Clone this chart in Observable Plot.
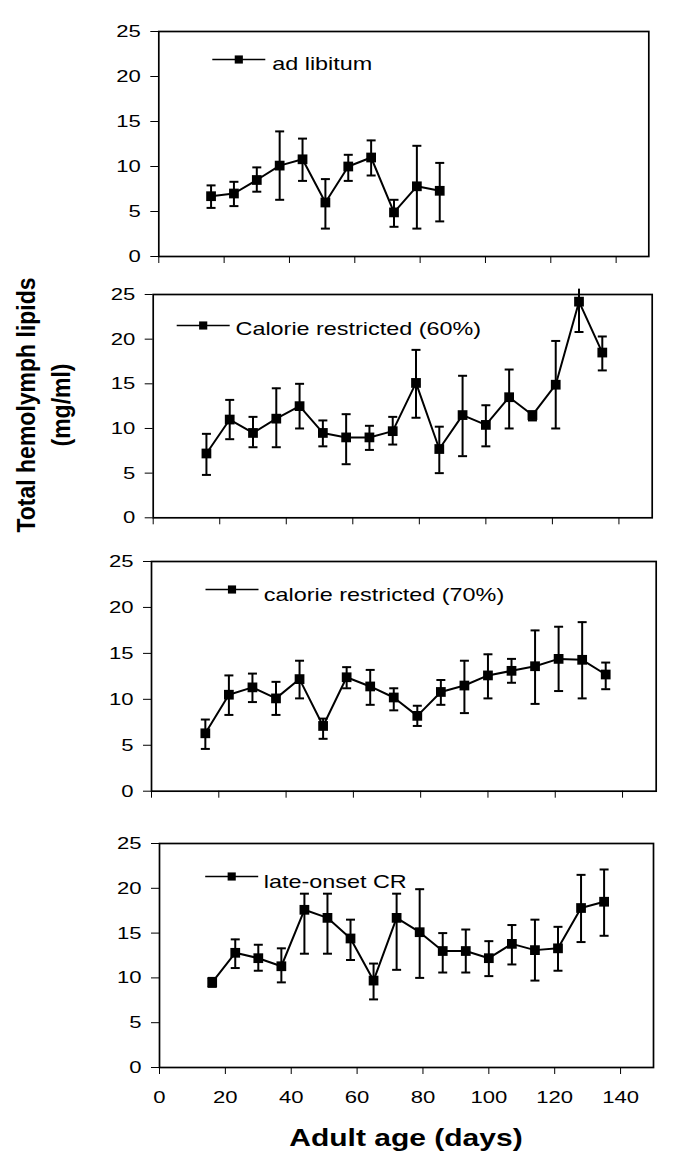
<!DOCTYPE html>
<html>
<head>
<meta charset="utf-8">
<script src="https://cdn.jsdelivr.net/npm/d3@7"></script>
<script src="https://cdn.jsdelivr.net/npm/@observablehq/plot@0.6"></script>
<style>
  html, body { margin: 0; padding: 0; background: #fff; }
  #root { position: relative; width: 677px; height: 1171px; overflow: hidden; font-family: "Liberation Sans", Arial, sans-serif; }
  #root svg { position: absolute; left: 0; background: none; overflow: visible; }
  .ylab { position: absolute; width: 400px; height: 64px; line-height: 32px; text-align: center;
          font-weight: bold; font-size: 23px; color: #000; white-space: nowrap;
          transform: rotate(-90deg) scaleY(1.1); transform-origin: center center; }
  .xlab { position: absolute; width: 400px; height: 30px; line-height: 30px; text-align: center;
          font-weight: bold; font-size: 24px; color: #000; white-space: nowrap;
          transform: scaleX(1.25); transform-origin: center center; }
</style>
</head>
<body>
<div id="root"></div>
<script>
// ---- data ----
const days = [16, 23, 30, 37, 44, 51, 58, 65, 72, 79, 86, 93, 100, 107, 114, 121, 128, 135];
const xTicks = [0, 20, 40, 60, 80, 100, 120, 140];
const yTicks = [0, 5, 10, 15, 20, 25];

const adLabel = "ad libitum";
const adMean = [6.7, 7.0, 8.5, 10.1, 10.8, 6.0, 10.0, 11.0, 4.9, 7.8, 7.3];
const adHi   = [7.9, 8.3, 9.9, 13.9, 13.1, 8.6, 11.3, 12.9, 6.3, 12.3, 10.4];
const adLo   = [5.4, 5.6, 7.2, 6.3, 8.4, 3.1, 8.4, 9.0, 3.3, 3.1, 3.9];

const cr60Label = "Calorie restricted (60%)";
const cr60Mean = [7.2, 11.0, 9.5, 11.1, 12.5, 9.5, 9.0, 9.0, 9.7, 15.1, 7.7, 11.5, 10.4, 13.5, 11.5, 14.9, 24.2, 18.5];
const cr60Hi   = [9.4, 13.2, 11.3, 14.5, 15.0, 10.9, 11.6, 10.3, 11.3, 18.8, 10.2, 15.9, 12.6, 16.6, 11.9, 19.8, 25.6, 20.3];
const cr60Lo   = [4.8, 8.8, 7.9, 7.9, 10.0, 8.0, 6.0, 7.6, 8.2, 11.2, 5.0, 6.9, 8.0, 10.0, 10.9, 10.0, 20.8, 16.5];

const cr70Label = "calorie restricted (70%)";
const cr70Mean = [6.3, 10.5, 11.3, 10.1, 12.2, 7.1, 12.4, 11.4, 10.2, 8.2, 10.8, 11.5, 12.6, 13.1, 13.6, 14.4, 14.3, 12.7];
const cr70Hi   = [7.8, 12.6, 12.8, 11.9, 14.2, 7.9, 13.5, 13.2, 11.2, 9.3, 12.1, 14.2, 14.9, 14.4, 17.5, 17.9, 18.4, 14.0];
const cr70Lo   = [4.6, 8.3, 9.7, 8.3, 10.1, 5.7, 11.2, 9.4, 8.8, 7.1, 9.4, 8.5, 10.1, 11.8, 9.5, 10.9, 10.1, 11.1];

const lateLabel = "late-onset CR";
const lateMean = [9.5, 12.8, 12.2, 11.3, 17.6, 16.7, 14.4, 9.7, 16.7, 15.1, 13.0, 13.0, 12.2, 13.8, 13.1, 13.3, 17.8, 18.5];
const lateHi   = [10.0, 14.3, 13.7, 13.3, 19.4, 19.4, 16.5, 11.6, 19.4, 19.9, 15.0, 15.4, 14.1, 15.9, 16.5, 15.7, 21.5, 22.1];
const lateLo   = [9.0, 11.1, 10.8, 9.5, 12.7, 12.7, 12.0, 7.6, 10.9, 10.0, 10.6, 10.6, 10.2, 11.5, 9.7, 10.8, 14.0, 14.7];

const yTitle1 = "Total hemolymph lipids";
const yTitle2 = "(mg/ml)";
const xTitle = "Adult age (days)";

// ---- layout (frame boxes in page pixels) ----
const W = 677;
const panels = [
  {label: adLabel, mean: adMean, hi: adHi, lo: adLo, left: 158.3, right: 648.3, top: 31, bottom: 256,
   leg: {lx: 80, ly: 28, tx: 113.4, ty: 26}, xlabels: false},
  {label: cr60Label, mean: cr60Mean, hi: cr60Hi, lo: cr60Lo, left: 152.7, right: 651.7, top: 294, bottom: 517.3,
   leg: {lx: 50, ly: 31, tx: 82.3, ty: 28}, xlabels: false},
  {label: cr70Label, mean: cr70Mean, hi: cr70Hi, lo: cr70Lo, left: 151, right: 655.7, top: 561, bottom: 790.7,
   leg: {lx: 80.5, ly: 28, tx: 112.3, ty: 27}, xlabels: false},
  {label: lateLabel, mean: lateMean, hi: lateHi, lo: lateLo, left: 159, right: 653, top: 842.7, bottom: 1066.7,
   leg: {lx: 72.2, ly: 33, tx: 104.3, ty: 32}, xlabels: true}
];

const capSymbol = {draw(ctx) { ctx.moveTo(-4.5, 0); ctx.lineTo(4.5, 0); }};
const legLineSymbol = {draw(ctx) { ctx.moveTo(-26.5, 0); ctx.lineTo(26.5, 0); }};

const root = document.getElementById("root");

for (const p of panels) {
  const data = p.mean.map((v, i) => ({day: days[i], v, hi: p.hi[i], lo: p.lo[i]}));
  const mt = 8, mb = p.xlabels ? 45 : 22;
  const plot = Plot.plot({
    width: W,
    height: mt + (p.bottom - p.top) + mb,
    marginLeft: p.left,
    marginRight: W - p.right,
    marginTop: mt,
    marginBottom: mb,
    style: {fontFamily: '"Liberation Sans", Arial, sans-serif', fontSize: "17px", color: "#000", background: "none", overflow: "visible"},
    x: {domain: [0, 150]},
    y: {domain: [0, 25]},
    marks: [
      Plot.axisY({ticks: yTicks, tickSize: 8, tickPadding: 10, label: null, strokeWidth: 1}),
      Plot.axisX({ticks: xTicks, tickSize: 7, tickPadding: 16, label: null, strokeWidth: 1,
                  tickFormat: p.xlabels ? (d) => String(d) : () => ""}),
      Plot.frame({stroke: "#000", strokeWidth: 1.7}),
      Plot.ruleX(data, {x: "day", y1: "lo", y2: "hi", stroke: "#000", strokeWidth: 2}),
      Plot.dot(data.filter((d) => d.hi <= 25), {x: "day", y: "hi", symbol: capSymbol, stroke: "#000", fill: "none", strokeWidth: 2}),
      Plot.dot(data, {x: "day", y: "lo", symbol: capSymbol, stroke: "#000", fill: "none", strokeWidth: 2}),
      Plot.line(data, {x: "day", y: "v", stroke: "#000", strokeWidth: 2}),
      Plot.dot(data, {x: "day", y: "v", symbol: "square", r: 5.5, fill: "#000"}),
      // legend
      Plot.dot([p.label], {frameAnchor: "top-left", dx: p.leg.lx, dy: p.leg.ly, symbol: legLineSymbol, stroke: "#000", fill: "none", strokeWidth: 1.6}),
      Plot.dot([p.label], {frameAnchor: "top-left", dx: p.leg.lx, dy: p.leg.ly, symbol: "square", r: 4.6, fill: "#000"}),
      Plot.text([p.label], {frameAnchor: "top-left", dx: p.leg.tx, dy: p.leg.ty, text: (d) => d, textAnchor: "start", fontSize: 18, fill: "#000"})
    ]
  });
  plot.style.top = (p.top - mt) + "px";
  // horizontally stretch text as in the reference
  plot.querySelectorAll("text").forEach((t) => {
    const tr = t.getAttribute("transform");
    if (tr) t.setAttribute("transform", tr + " scale(1.3,1)");
  });
  root.appendChild(plot);
}

// y title (rotated, two lines)
const cx = 44.3, cy = 405;
const yl = document.createElement("div");
yl.className = "ylab";
yl.style.left = (cx - 200) + "px";
yl.style.top = (cy - 32) + "px";
yl.innerHTML = "";
const l1 = document.createElement("div"); l1.textContent = yTitle1;
const l2 = document.createElement("div"); l2.textContent = yTitle2;
yl.appendChild(l1); yl.appendChild(l2);
root.appendChild(yl);

// x title
const xl = document.createElement("div");
xl.className = "xlab";
xl.style.left = (406.3 - 200) + "px";
xl.style.top = "1123px";
xl.textContent = xTitle;
root.appendChild(xl);
</script>
</body>
</html>
